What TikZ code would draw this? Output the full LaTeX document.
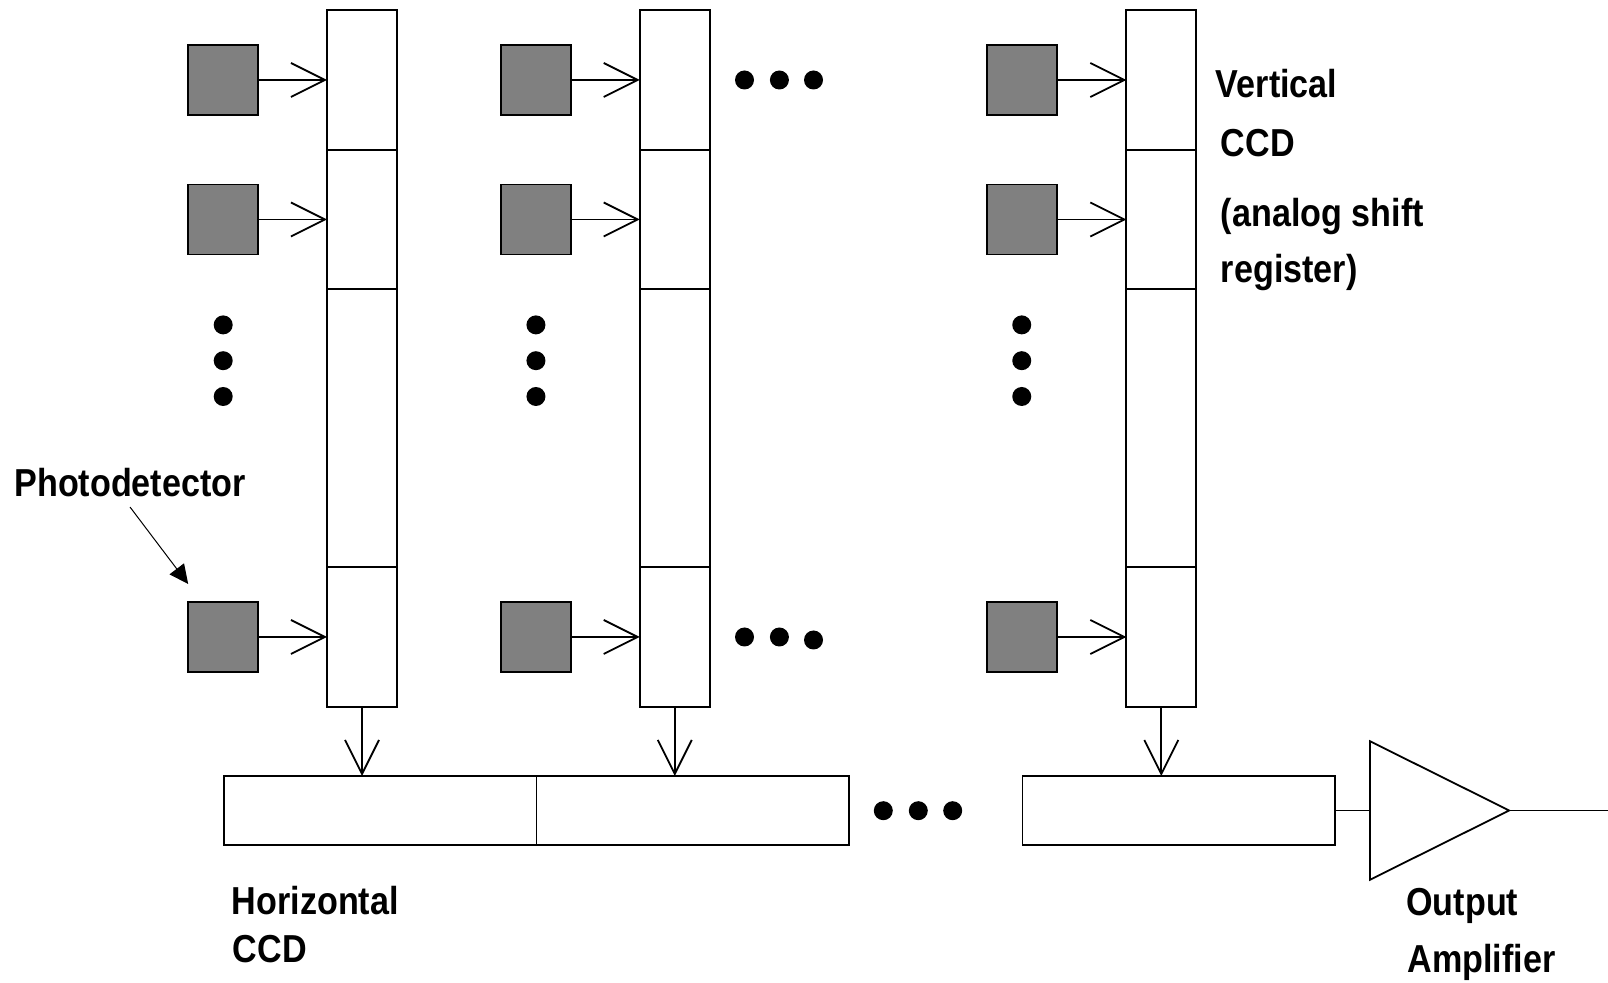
\documentclass[tikz,border=0pt]{standalone}
\usepackage{fontspec}
\setsansfont{Liberation Sans}
\newfontfamily\lblfont[FakeStretch=0.875]{Liberation Sans}
\usetikzlibrary{positioning,shapes.geometric,arrows.meta}
\definecolor{pdFill}{HTML}{808080}

\begin{document}
\begin{tikzpicture}[
  x=0.5pt, y=-0.5pt,
  line width=0.9pt,
  font=\fontsize{19.5}{23}\selectfont\lblfont\bfseries,
  vcell/.style={draw, minimum width=35pt, minimum height=69.75pt, inner sep=0pt, outer sep=0pt},
  vlong/.style={vcell, minimum height=139pt},
  hcell/.style={draw, minimum width=156.4pt, minimum height=34.5pt, inner sep=0pt, outer sep=0pt},
  pd/.style={draw, fill=pdFill, minimum size=35pt, inner sep=0pt, outer sep=0pt},
  dot/.style={circle, fill=black, minimum size=9.5pt, inner sep=0pt},
  amp/.style={draw, isosceles triangle, isosceles triangle stretches, shape border rotate=0,
              minimum width=69.25pt, minimum height=69.6pt, inner sep=0pt, outer sep=0pt},
  arr/.style={-{Straight Barb[length=17pt,width=17pt]}},
  ptr/.style={-{Triangle[length=9.5pt,width=9pt]}, line width=0.5pt},
  lbl/.style={anchor=base west, inner sep=0pt}
]
\useasboundingbox (0,0) rectangle (1608,983);

% ============ VERTICAL CCD COLUMNS ============
\node[vcell] (v1a) at (362,80) {};
\node[vcell, below=0pt of v1a] (v1b) {};
\node[vlong, below=0pt of v1b] (v1c) {};
\node[vcell, below=0pt of v1c] (v1d) {};

\node[vcell] (v2a) at (674.75,80) {};
\node[vcell, below=0pt of v2a] (v2b) {};
\node[vlong, below=0pt of v2b] (v2c) {};
\node[vcell, below=0pt of v2c] (v2d) {};

\node[vcell] (v3a) at (1161.35,80) {};
\node[vcell, below=0pt of v3a] (v3b) {};
\node[vlong, below=0pt of v3b] (v3c) {};
\node[vcell, below=0pt of v3c] (v3d) {};

% ============ PHOTODETECTORS ============
\node[pd, left=34.4pt of v1a] (p1a) {};
\node[pd, left=34.4pt of v1b] (p1b) {};
\node[pd, left=34.4pt of v1d] (p1d) {};
\node[pd, left=34.4pt of v2a] (p2a) {};
\node[pd, left=34.4pt of v2b] (p2b) {};
\node[pd, left=34.4pt of v2d] (p2d) {};
\node[pd, left=34.8pt of v3a] (p3a) {};
\node[pd, left=34.8pt of v3b] (p3b) {};
\node[pd, left=34.8pt of v3d] (p3d) {};

\draw[arr] (p1a) -- (v1a.west);
\draw[arr] (p1b) -- (v1b.west);
\draw[arr] (p1d) -- (v1d.west);
\draw[arr] (p2a) -- (v2a.west);
\draw[arr] (p2b) -- (v2b.west);
\draw[arr] (p2d) -- (v2d.west);
\draw[arr] (p3a) -- (v3a.west);
\draw[arr] (p3b) -- (v3b.west);
\draw[arr] (p3d) -- (v3d.west);

% vertical ellipses under each column of detectors
\node[dot, below=30pt of p1b] (e1a) {};
\node[dot, below=7.5pt of e1a] (e1b) {};
\node[dot, below=7.5pt of e1b] (e1c) {};
\node[dot, below=30pt of p2b] (e2a) {};
\node[dot, below=7.5pt of e2a] (e2b) {};
\node[dot, below=7.5pt of e2b] (e2c) {};
\node[dot, below=30pt of p3b] (e3a) {};
\node[dot, below=7.5pt of e3a] (e3b) {};
\node[dot, below=7.5pt of e3b] (e3c) {};

% horizontal ellipses between columns
\node[dot] (t1) at (744.5,80) {};
\node[dot] (t2) at (779.4,80) {};
\node[dot] (t3) at (813.5,80) {};
\node[dot] (b1) at (744.5,637) {};
\node[dot] (b2) at (779.4,637) {};
\node[dot] (b3) at (813.5,640) {};

% ============ HORIZONTAL CCD ============
\node[hcell] (h1) at (380,810.5) {};
\node[hcell, right=0pt of h1] (h2) {};
\node[hcell] (h3) at (1178.8,810.5) {};

\node[dot] (m1) at (883.3,810.7) {};
\node[dot] (m2) at (918.3,810.7) {};
\node[dot] (m3) at (952.7,810.7) {};

\draw[arr] (v1d.south) -- (v1d.south |- h1.north);
\draw[arr] (v2d.south) -- (v2d.south |- h2.north);
\draw[arr] (v3d.south) -- (v3d.south |- h3.north);

% ============ OUTPUT AMPLIFIER ============
\node[amp, right=17.4pt of h3] (amp) {};
\coordinate (out) at (1608,810.5);
\draw (h3.east) -- (amp.west);
\draw (amp.apex) -- (out);

% ============ LABELS ============
\node[lbl] (pdlbl) at (13.5,497) {Photodetector};
\draw[ptr] ([yshift=-4.4pt]pdlbl.south) -- ([yshift=9pt]p1d.north west);

\node[lbl] (vl1) at (1215,97.5) {Vertical};
\node[lbl] (vl2) at (1220,156.5) {CCD};
\node[lbl] (vl3) at (1220,227) {(analog shift};
\node[lbl] (vl4) at (1220,283) {register)};

\node[lbl] (hl1) at (231,914) {Horizontal};
\node[lbl] (hl2) at (232,963) {CCD};

\node[lbl] (al1) at (1405.5,915) {Output};
\node[lbl] (al2) at (1406.5,972) {Amplifier};

\end{tikzpicture}
\end{document}
